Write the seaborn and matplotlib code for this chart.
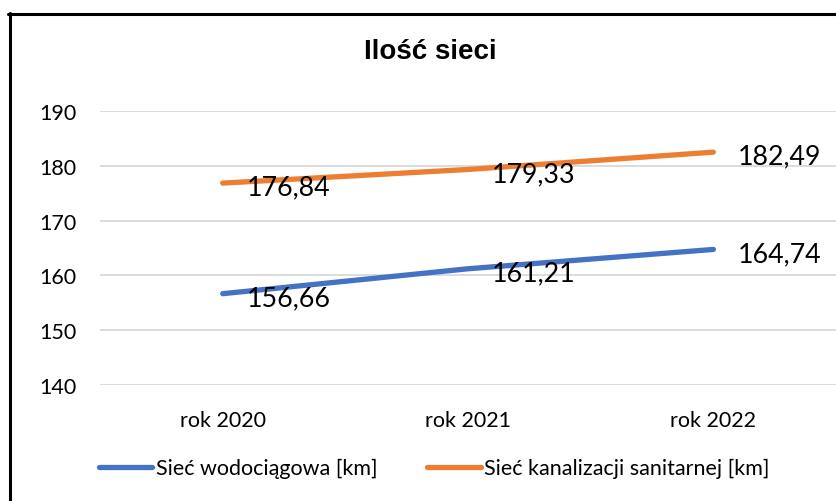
import matplotlib
matplotlib.use("Agg")
import matplotlib.pyplot as plt
from matplotlib.lines import Line2D
import pandas as pd
import seaborn as sns

# Chart data
years = ["rok 2020", "rok 2021", "rok 2022"]
water = [156.66, 161.21, 164.74]
sewer = [176.84, 179.33, 182.49]
series_names = ["Sieć wodociągowa [km]", "Sieć kanalizacji sanitarnej [km]"]
colors = ["#4472C4", "#ED7D31"]
yticks = [140, 150, 160, 170, 180, 190]

df = pd.DataFrame({
    "rok": years * 2,
    "x": list(range(len(years))) * 2,
    "km": water + sewer,
    "seria": [series_names[0]] * len(years) + [series_names[1]] * len(years),
})

sns.set_style("white")
plt.rcParams["font.family"] = ["Lato", "DejaVu Sans"]
plt.rcParams["text.color"] = "#000000"

W, H = 837, 502
fig = plt.figure(figsize=(W / 100, H / 100), dpi=100)
ax = fig.add_axes([100 / W, 1 - 386 / H, (836 - 100) / W, 274 / H])

sns.lineplot(data=df, x="x", y="km", hue="seria", palette=colors,
             hue_order=series_names, linewidth=3.8, ax=ax, legend=False,
             solid_capstyle="round")

ax.set_xlim(-0.5, len(years) - 0.5)
ax.set_ylim(yticks[0], yticks[-1])
ax.set_yticks(yticks)
ax.set_xticks(range(len(years)))
ax.set_xticklabels(years)
ax.set_xlabel("")
ax.set_ylabel("")
ax.grid(axis="y", color="#D9D9D9", linewidth=1.3)
ax.grid(axis="x", visible=False)
for s in ax.spines.values():
    s.set_visible(False)
ax.tick_params(axis="y", length=0, pad=17, labelsize=15.5, labelcolor="#000000")
ax.tick_params(axis="x", length=0, pad=18, labelsize=15.5, labelcolor="#000000")

# value labels to the right of each point
for vals in (water, sewer):
    for i, v in enumerate(vals):
        ax.annotate(f"{v:.2f}".replace(".", ","), xy=(i, v),
                    xytext=(24, -4), textcoords="offset pixels",
                    ha="left", va="center", fontsize=19.3, color="#000000")

fig.text(430 / W, 1 - 52 / H, "Ilość sieci", ha="center", va="center",
         fontsize=20, fontweight="bold", family="Liberation Sans",
         color="#000000")

handles = [Line2D([], [], color=c, linewidth=3.8, solid_capstyle="round")
           for c in colors]
fig.legend(handles, series_names, loc="center", ncol=2,
           bbox_to_anchor=(434 / W, 1 - 469 / H), frameon=False,
           fontsize=15.5, handlelength=2.5, handletextpad=0.15,
           columnspacing=2.3, labelcolor="#000000")

# outer frame
fig.add_artist(Line2D([8 / W, 1], [1 - 15 / H, 1 - 15 / H],
                      transform=fig.transFigure, color="#000000", linewidth=2.2))
fig.add_artist(Line2D([10 / W, 10 / W], [1 - 14 / H, 0],
                      transform=fig.transFigure, color="#000000", linewidth=2.2))

fig.savefig("out.png", dpi=100, facecolor="white")
